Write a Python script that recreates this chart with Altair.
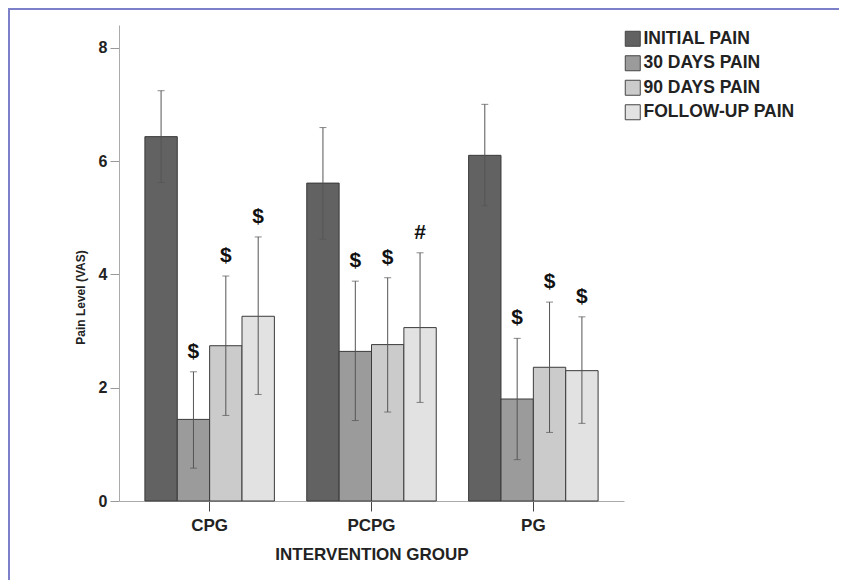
import altair as alt
import pandas as pd

groups = ["CPG", "PCPG", "PG"]
series = ["INITIAL PAIN", "30 DAYS PAIN", "90 DAYS PAIN", "FOLLOW-UP PAIN"]
colors = ["#626262", "#9b9b9b", "#cbcbcb", "#e2e2e2"]

means = {
    "CPG": [6.43, 1.44, 2.74, 3.26],
    "PCPG": [5.61, 2.64, 2.76, 3.06],
    "PG": [6.10, 1.80, 2.36, 2.30],
}
err_hi = {
    "CPG": [7.24, 2.28, 3.97, 4.66],
    "PCPG": [6.59, 3.88, 3.94, 4.38],
    "PG": [7.00, 2.87, 3.51, 3.25],
}
err_lo = {
    "CPG": [5.62, 0.58, 1.51, 1.88],
    "PCPG": [4.62, 1.42, 1.57, 1.74],
    "PG": [5.21, 0.73, 1.21, 1.37],
}
marks = {
    "CPG": ["", "$", "$", "$"],
    "PCPG": ["", "$", "$", "#"],
    "PG": ["", "$", "$", "$"],
}

rows = []
for g in groups:
    for i, s in enumerate(series):
        rows.append({"group": g, "series": s, "mean": means[g][i],
                     "hi": err_hi[g][i], "lo": err_lo[g][i], "mark": marks[g][i]})
df = pd.DataFrame(rows)

W, H = 505, 476
PL, PT, PR, PB = 111, 17, 215, 79
FONT = "Liberation Sans"

xenc = alt.X("group:N", sort=groups,
             scale=alt.Scale(paddingInner=0.2, paddingOuter=0.16),
             axis=alt.Axis(title="INTERVENTION GROUP", labelAngle=0, tickSize=10,
                           labelPadding=6, labelFontSize=17, labelFont=FONT,
                           labelFontWeight="bold", labelColor="#222",
                           titleFontSize=17, titleFont=FONT, titleFontWeight="bold",
                           titleColor="#222", titleX=W / 2, titleY=58,
                           titleBaseline="alphabetic",
                           domainColor="#aaaaaa", tickColor="#444444"))
xoff = alt.XOffset("series:N", sort=series, scale=alt.Scale(domain=series))
yscale = alt.Scale(domain=[0, 8.4], nice=False)

base = alt.Chart(df)

bars = base.mark_bar(stroke="#3a3a3a", strokeWidth=1).encode(
    x=xenc,
    xOffset=xoff,
    y=alt.Y("mean:Q", scale=yscale,
            axis=alt.Axis(title="Pain Level (VAS)", values=[0, 2, 4, 6, 8], format="d",
                          grid=False,
                          tickSize=9, labelPadding=3, labelFontSize=16, labelFont=FONT,
                          labelFontWeight="bold", labelColor="#222",
                          titleFontSize=12, titleFont=FONT, titleFontWeight="bold",
                          titleColor="#222", titleAngle=-90, titleX=-39, titleY=272,
                          titleBaseline="middle", titleAlign="center",
                          domainColor="#aaaaaa", tickColor="#999999")),
    color=alt.Color("series:N", sort=series,
                    scale=alt.Scale(domain=series, range=colors),
                    legend=alt.Legend(title=None, orient="none", legendX=505, legendY=5,
                                      symbolType="square", symbolSize=225,
                                      symbolStrokeColor="#444444", symbolStrokeWidth=1,
                                      labelFont=FONT, labelFontSize=17.5,
                                      labelFontWeight="bold", labelColor="#222",
                                      labelOffset=2, rowPadding=4.5)),
)

rules = base.mark_rule(color="#555555", strokeWidth=1).encode(
    x=alt.X("group:N", sort=groups), xOffset=xoff,
    y=alt.Y("lo:Q", scale=yscale), y2="hi:Q")

cap_hi = base.mark_tick(color="#555555", size=7, thickness=1, orient="horizontal").encode(
    x=alt.X("group:N", sort=groups), xOffset=xoff, y=alt.Y("hi:Q", scale=yscale))
cap_lo = base.mark_tick(color="#555555", size=7, thickness=1, orient="horizontal").encode(
    x=alt.X("group:N", sort=groups), xOffset=xoff, y=alt.Y("lo:Q", scale=yscale))

labels = base.mark_text(fontSize=21, fontWeight="bold", font=FONT, color="#111",
                        baseline="middle", dy=-20).encode(
    x=alt.X("group:N", sort=groups), xOffset=xoff, y=alt.Y("hi:Q", scale=yscale),
    text="mark:N")

one = alt.Chart(pd.DataFrame({"k": [0]}))
border_top = one.mark_rule(color="#7b80c9", strokeWidth=2).encode(
    x=alt.value(-PL), x2=alt.value(W + PR), y=alt.value(-PT + 1))
border_left = one.mark_rule(color="#7b80c9", strokeWidth=2).encode(
    x=alt.value(-PL + 1), y=alt.value(-PT), y2=alt.value(H + PB))

chart = alt.layer(bars, rules, cap_hi, cap_lo, labels, border_top, border_left).properties(
    width=W, height=H,
    autosize=alt.AutoSizeParams(type="none"),
    padding={"left": PL, "top": PT, "right": PR, "bottom": PB},
    background="white",
).configure_view(strokeWidth=0)

chart.save("out.html", embed_options={"renderer": "svg", "actions": False})
